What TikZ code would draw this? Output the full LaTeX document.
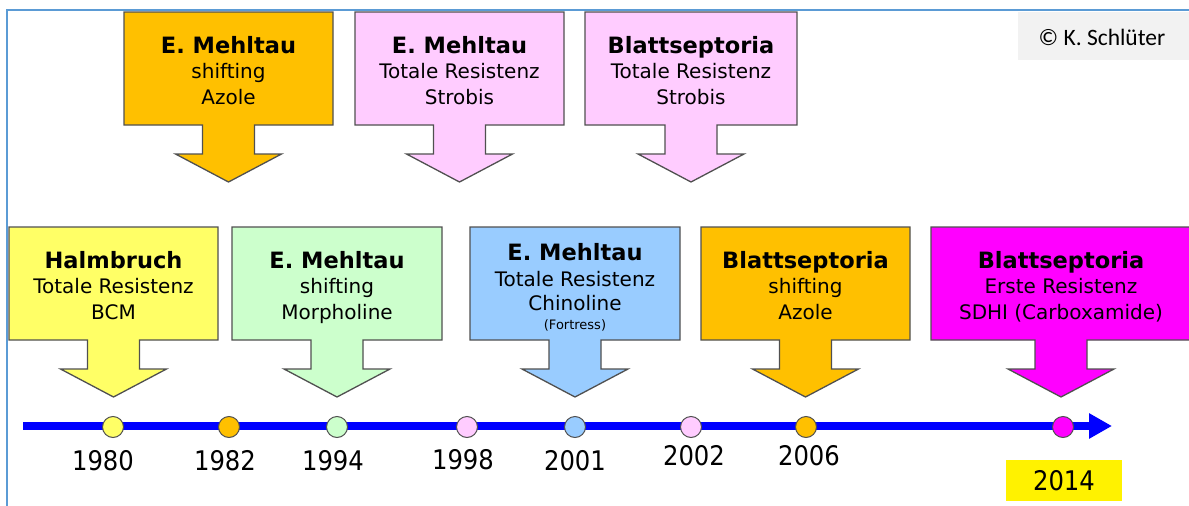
\documentclass[tikz,border=0pt]{standalone}
\usepackage{fontspec}
\setmainfont{DejaVu Sans}
\newfontfamily\yearfont[FakeStretch=0.9]{DejaVu Sans}
\newfontfamily\calfont{Carlito}
\usetikzlibrary{arrows.meta}
\definecolor{cgold}{HTML}{FFC000}
\definecolor{cpink}{HTML}{FFCCFF}
\definecolor{cyel}{HTML}{FFFF66}
\definecolor{cgreen}{HTML}{CCFFCC}
\definecolor{cblue}{HTML}{99CCFF}
\definecolor{cmag}{HTML}{FF00FF}
\definecolor{cframe}{HTML}{5B9BD5}
\definecolor{coutl}{HTML}{505050}
\definecolor{ccopy}{HTML}{F2F2F2}
\definecolor{cline}{HTML}{0000FF}
\newcommand\hd[1]{{\bfseries\fontsize{22.5}{25.5}\selectfont #1}}
% callout shape: fill, x1, x2, ytop
\newcommand\callout[4]{%
  \pgfmathsetmacro\cxx{(#2+#3)/2}%
  \pgfmathsetmacro\yb{#4+113}%
  \pgfmathsetmacro\ys{#4+142}%
  \pgfmathsetmacro\yt{#4+170}%
  \draw[calloutbox, fill=#1] (#2,#4) -- (#3,#4) -- (#3,\yb) -- ({\cxx+26},\yb) -- ({\cxx+26},\ys)
    -- ({\cxx+53},\ys) -- (\cxx,\yt) -- ({\cxx-53},\ys) -- ({\cxx-26},\ys) -- ({\cxx-26},\yb)
    -- (#2,\yb) -- cycle;}
\tikzset{
  calloutbox/.style={draw=coutl, line width=1.3pt, line join=miter},
  txt/.style={anchor=north, align=center, inner sep=0pt, font=\fontsize{20}{25.5}\selectfont},
  dot/.style={circle, draw=coutl, line width=1pt, minimum size=21pt, inner sep=0pt},
  year/.style={inner sep=0pt, font=\yearfont\fontsize{27}{27}\selectfont},
}
\begin{document}
\begin{tikzpicture}[x=1pt, y=-1pt]
\useasboundingbox (0,0) rectangle (1189,506);
% frame
\draw[cframe, line width=1.5pt] (7,506) -- (7,10) -- (1189,10);
% copyright
\node[fill=ccopy, minimum width=173pt, minimum height=48pt, inner sep=0pt] (copy) at (1104.5,36) {};
\node[font=\calfont\fontsize{23.5}{25}\selectfont, inner sep=0pt] (copyt) at (1102,37) {© K. Schlüter};
% top callouts
\callout{cgold}{124}{333}{12}
\node[txt] (t1) at (228.5,36) {\hd{E. Mehltau}\\shifting\\Azole};
\callout{cpink}{355}{564}{12}
\node[txt] (t2) at (459.5,36) {\hd{E. Mehltau}\\Totale Resistenz\\Strobis};
\callout{cpink}{585}{797}{12}
\node[txt] (t3) at (691,36) {\hd{Blattseptoria}\\Totale Resistenz\\Strobis};
% bottom callouts
\callout{cyel}{9}{218}{227}
\node[txt] (b1) at (113.5,251) {\hd{Halmbruch}\\Totale Resistenz\\BCM};
\callout{cgreen}{232}{442}{227}
\node[txt] (b2) at (337,251) {\hd{E. Mehltau}\\shifting\\Morpholine};
\callout{cblue}{470}{680}{227}
\node[txt] (b3) at (575,243) {\hd{E. Mehltau}\\[1pt]Totale Resistenz\\[-1.5pt]Chinoline\\[-7pt]{\fontsize{13}{15}\selectfont (Fortress)}};
\callout{cgold}{701}{910}{227}
\node[txt] (b4) at (805.5,251) {\hd{Blattseptoria}\\shifting\\Azole};
\callout{cmag}{931}{1191}{227}
\node[txt] (b5) at (1061,251) {\hd{Blattseptoria}\\Erste Resistenz\\SDHI (Carboxamide)};
% timeline
\coordinate (tl0) at (23,426);
\coordinate (tl1) at (1112,426);
\draw[cline, line width=8pt, -{Triangle[length=23pt,width=24pt]}] (tl0) -- (tl1);
\node[dot, fill=cyel]   (d1980) at (113,427) {};
\node[dot, fill=cgold]  (d1982) at (229,427) {};
\node[dot, fill=cgreen] (d1994) at (337,427) {};
\node[dot, fill=cpink]  (d1998) at (467,427) {};
\node[dot, fill=cblue]  (d2001) at (575,427) {};
\node[dot, fill=cpink]  (d2002) at (691,427) {};
\node[dot, fill=cgold]  (d2006) at (806,427) {};
\node[dot, fill=cmag]   (d2014) at (1063,427) {};
% years
\node[year] (y1980) at (103,461) {1980};
\node[year] (y1982) at (225,461) {1982};
\node[year] (y1994) at (333,461) {1994};
\node[year] (y1998) at (463,460) {1998};
\node[year] (y2001) at (575,461) {2001};
\node[year] (y2002) at (694,456) {2002};
\node[year] (y2006) at (809,456) {2006};
\node[fill=yellow, minimum width=116pt, minimum height=41pt, inner sep=0pt] (y2014box) at (1064,480.5) {};
\node[year] (y2014) at (1064,481) {2014};
\end{tikzpicture}
\end{document}
